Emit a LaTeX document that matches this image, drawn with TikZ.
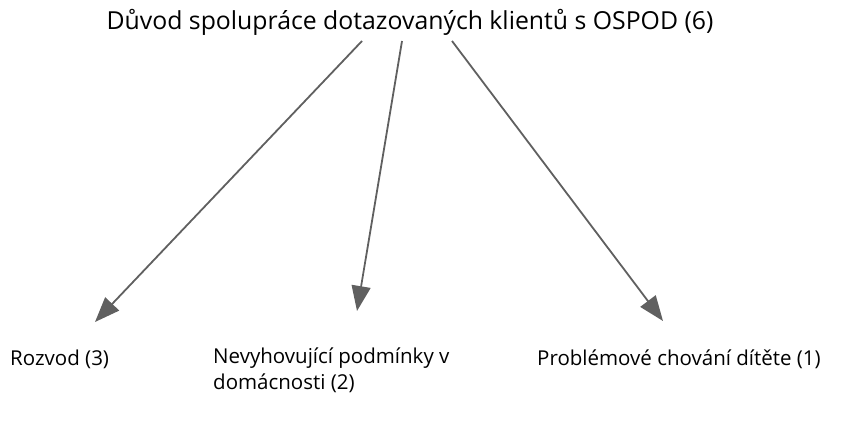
\documentclass[tikz,border=0pt]{standalone}
\usepackage{fontspec}
\setmainfont{Open Sans}
\usetikzlibrary{arrows.meta,positioning}
\definecolor{linkgray}{RGB}{96,96,96}

\begin{document}
\begin{tikzpicture}[x=1pt,y=-1pt,
    reason/.style={anchor=west,inner sep=0pt,align=left,font=\fontsize{20.5}{26}\selectfont},
    link/.style={draw=linkgray,line width=1.8pt,-{Triangle[length=25pt,width=19pt]}}]
    \useasboundingbox (0,0) rectangle (851,427);
    \node[inner sep=0pt,font=\fontsize{24.8}{28}\selectfont] (topic) at (410,22) {Důvod spolupráce dotazovaných klientů s OSPOD (6)};
    \node[reason] (rozvod) at (10,359) {Rozvod (3)};
    \node[reason,anchor=north west] (podminky) at (213,348) {Nevyhovující podmínky v\\domácnosti (2)};
    \node[reason] (chovani) at (537,359) {Problémové chování dítěte (1)};
    \coordinate (tip1) at (95,322);
    \coordinate (tip2) at (357,311);
    \coordinate (tip3) at (663,321);
    \path[link] (362,41) -- (tip1);
    \path[link] (402,41) -- (tip2);
    \path[link] (452,41) -- (tip3);
\end{tikzpicture}
\end{document}
